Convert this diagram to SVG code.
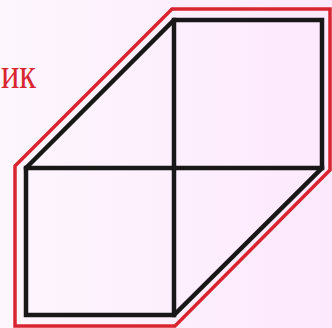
<svg xmlns="http://www.w3.org/2000/svg" width="332" height="328" viewBox="0 0 332 328">
<defs>
<linearGradient id="bg" x1="0" y1="0" x2="1" y2="0">
<stop offset="0" stop-color="#fdf6fd"/>
<stop offset="1" stop-color="#fde9fd"/>
</linearGradient>
</defs>
<style>
.red{fill:none;stroke:#d9252f;stroke-width:3.5;stroke-linejoin:miter}
.blk{fill:none;stroke:#1a1718;stroke-width:4.5;stroke-linejoin:miter;stroke-linecap:square}
.lbl{font-family:"Liberation Serif",serif;font-size:44px;fill:#d9252f}
</style>
<rect width="332" height="328" fill="url(#bg)"/>
<text class="lbl" x="1" y="88" textLength="35" lengthAdjust="spacingAndGlyphs">ик</text>
<g id="outline">
<polygon class="red" points="15,166 172,9 330,9 330,170 175,326 15,326"/>
</g>
<g id="shape">
<polygon class="blk" points="26,168 174,20 322,20 322,168 174,315 26,315"/>
</g>
<g id="connectors">
<line class="blk" x1="174" y1="20" x2="174" y2="315"/>
<line class="blk" x1="26" y1="168" x2="322" y2="168"/>
</g>
</svg>
